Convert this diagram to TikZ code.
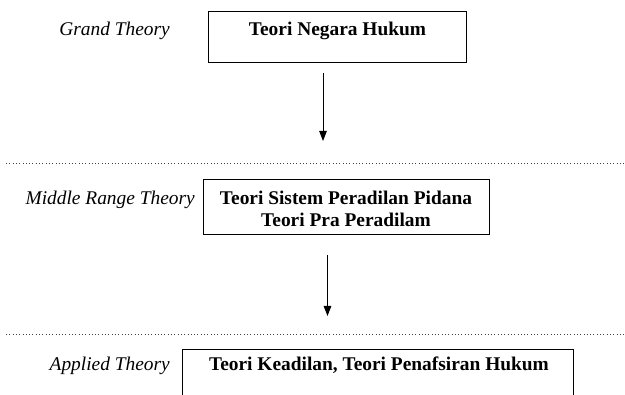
\documentclass[tikz,border=0pt]{standalone}
\usepackage{fontspec}
\setmainfont{Liberation Serif}
\usetikzlibrary{arrows.meta}
\begin{document}
\begin{tikzpicture}[x=1pt,y=-1pt,
  boxframe/.style={draw=black, line width=1.1pt, inner sep=0pt, anchor=north west},
  lbl/.style={font=\fontsize{19.4}{22}\selectfont\itshape, inner sep=0pt, anchor=base east},
  ttl/.style={font=\fontsize{19.4}{22}\selectfont\bfseries, inner sep=0pt, anchor=base},
  conn/.style={line width=1pt, -{Triangle[length=10pt,width=7.5pt]}},
  sepline/.style={line width=1pt, black!75, dash pattern=on 1pt off 2.3pt}]
\useasboundingbox (0,0) rectangle (625,395);
% boxes
\node[boxframe, minimum width=258pt, minimum height=51pt] (b1) at (208,11) {};
\node[boxframe, minimum width=286pt, minimum height=55pt] (b2) at (203,179) {};
\node[boxframe, minimum width=391.6pt, minimum height=70pt] (b3) at (181.7,349.3) {};
% box texts
\node[ttl] (t1) at (337.5,36) {Teori Negara Hukum};
\node[ttl] (t2a) at (346,205) {Teori Sistem Peradilan Pidana};
\node[ttl] (t2b) at (346,227) {Teori Pra Peradilam};
\node[ttl] (t3) at (379,371) {Teori Keadilan, Teori Penafsiran Hukum};
% level labels
\node[lbl] (l1) at (170,36) {Grand Theory};
\node[lbl] (l2) at (195,205) {Middle Range Theory};
\node[lbl] (l3) at (170,371) {Applied Theory};
% separators
\coordinate (d1l) at (6,164);
\coordinate (d1r) at (625,164);
\coordinate (d2l) at (6,334.5);
\coordinate (d2r) at (625,334.5);
\draw[sepline] (d1l) -- (d1r);
\draw[sepline] (d2l) -- (d2r);
% arrows
\coordinate (a1s) at (323,73);
\coordinate (a1e) at (323,141);
\coordinate (a2s) at (327.5,255);
\coordinate (a2e) at (327.5,316);
\draw[conn] (a1s) -- (a1e);
\draw[conn] (a2s) -- (a2e);
\end{tikzpicture}
\end{document}
